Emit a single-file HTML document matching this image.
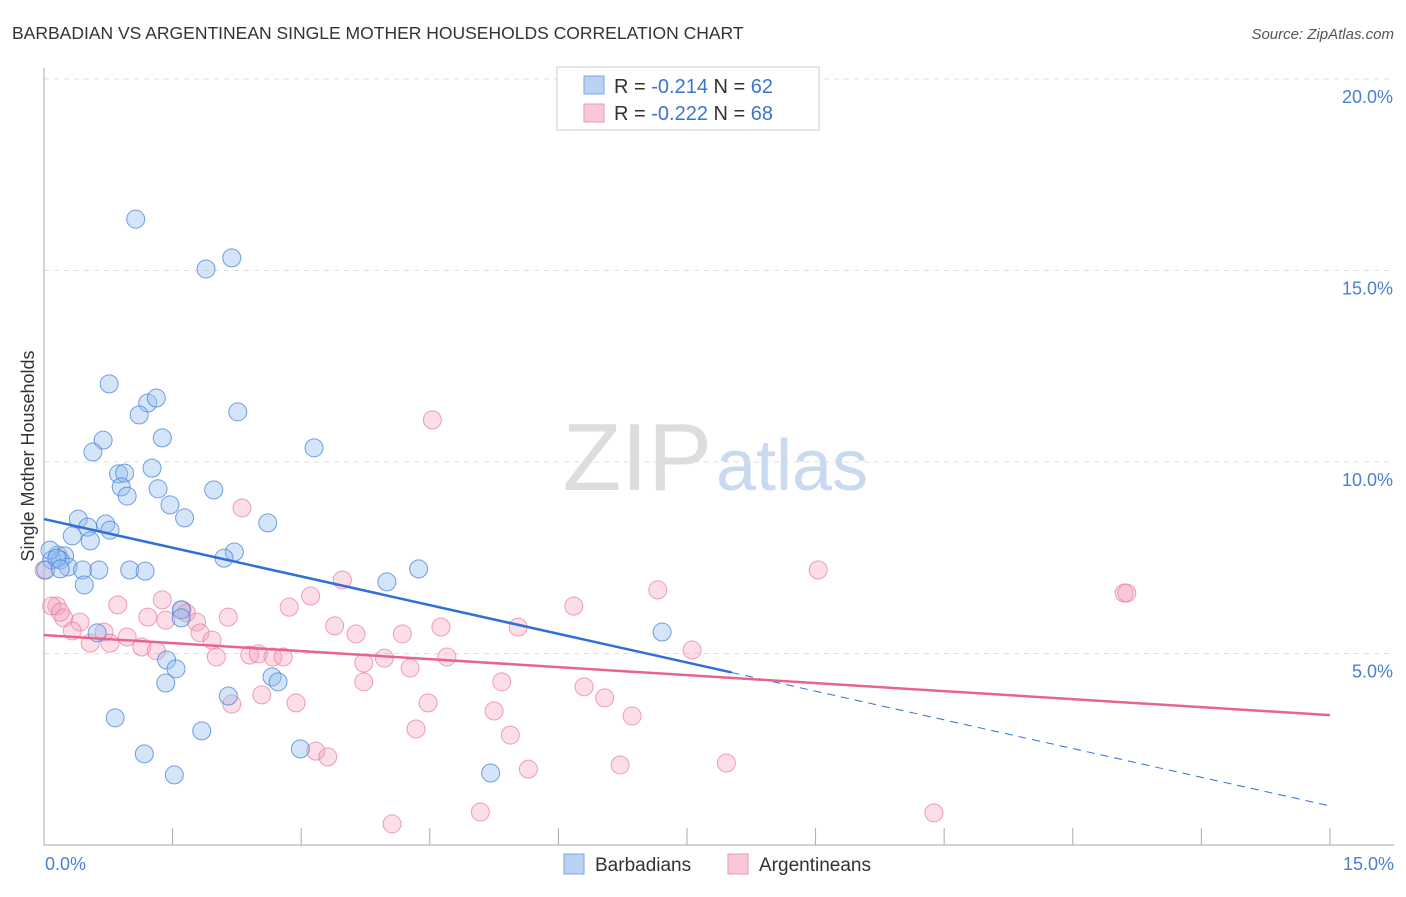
<!DOCTYPE html>
<html><head><meta charset="utf-8"><style>
body{margin:0;background:#fff;font-family:"Liberation Sans",sans-serif}
svg text{font-family:"Liberation Sans",sans-serif}
</style></head><body>
<svg id="c" width="1406" height="892">
<text x="12" y="39" font-size="17.5" fill="#333">BARBADIAN VS ARGENTINEAN SINGLE MOTHER HOUSEHOLDS CORRELATION CHART</text>
<text x="1394" y="39" font-size="15" fill="#555" font-style="italic" text-anchor="end">Source: ZipAtlas.com</text>
<text x="712" y="490" font-size="96" fill="#ddd" text-anchor="end" font-family="Liberation Serif">ZIP</text>
<text x="716" y="490" font-size="72" fill="#c9daf0">atlas</text>
<g id="grid"></g><g id="pts"></g><g id="lines"></g>
<text transform="translate(34,456) rotate(-90)" font-size="18" fill="#333" text-anchor="middle">Single Mother Households</text>
<text x="45" y="870" font-size="18" fill="#4a7fd4">0.0%</text>
<text x="1394" y="870" font-size="18" fill="#4a7fd4" text-anchor="end">15.0%</text>
<g>
<rect x="557" y="67" width="262" height="63" fill="#fff" stroke="#ccc"/>
<rect x="584" y="76" width="20" height="18" fill="#b9d2f3" stroke="#7aa6e6"/>
<rect x="584" y="104" width="20" height="18" fill="#f9c8d6" stroke="#ee97b2"/>
<text x="614" y="93" font-size="20" fill="#333">R = <tspan fill="#3b73d1">-0.214</tspan>   N = <tspan fill="#3b73d1">62</tspan></text>
<text x="614" y="120" font-size="20" fill="#333">R = <tspan fill="#3b73d1">-0.222</tspan>   N = <tspan fill="#3b73d1">68</tspan></text>
</g>
<g>
<rect x="564" y="854" width="20" height="20" fill="#b9d2f3" stroke="#7aa6e6"/>
<text x="595" y="871" font-size="19" fill="#333">Barbadians</text>
<rect x="728" y="854" width="20" height="20" fill="#f9c8d6" stroke="#ee97b2"/>
<text x="759" y="871" font-size="19" fill="#333">Argentineans</text>
</g>
</svg>
<script>
const yTicks=[5,10,15,20];
const yTickLabels=["5.0%","10.0%","15.0%","20.0%"];
const xTicks=[0,1.5,3,4.5,6,7.5,9,10.5,12,13.5,15];
const bluePx=[[136,219],[206,269],[232,258],[109,384],[148,403],[156,398],[139,415],[238,412],[103,440],[162,438],[93,452],[314,448],[119,474],[125,473],[152,468],[121,487],[127,496],[158,489],[214,490],[170,505],[185,518],[78,519],[88,527],[106,524],[110,530],[268,523],[72,536],[90,541],[234,552],[224,558],[58,555],[65,556],[52,560],[60,560],[68,567],[83,570],[99,570],[130,570],[145,571],[387,582],[419,569],[84,585],[181,610],[181,618],[97,633],[662,632],[167,660],[176,669],[166,683],[272,677],[278,682],[228,696],[115,718],[202,731],[144,754],[300,749],[174,775],[491,773],[50,550],[46,570],[57,558],[60,569]];
const pinkPx=[[432,420],[242,508],[818,570],[342,580],[1124,593],[1127,593],[658,590],[574,606],[289,607],[311,596],[162,600],[118,605],[182,610],[186,613],[57,606],[64,618],[148,617],[166,620],[197,622],[228,617],[80,622],[72,631],[104,632],[127,637],[200,633],[212,640],[335,626],[356,634],[402,634],[441,627],[518,627],[90,643],[110,643],[142,647],[156,651],[216,657],[250,655],[258,654],[273,657],[283,657],[384,658],[364,663],[447,657],[692,650],[410,668],[364,682],[502,682],[584,687],[232,704],[262,695],[296,703],[428,703],[605,698],[494,711],[632,716],[416,729],[510,735],[316,751],[328,757],[528,769],[620,765],[726,763],[392,824],[480,812],[934,813],[44,570],[52,606],[60,612]];
// data values (x %, y %) derived from reading the picture
const blueX=bluePx.map(p=>+((p[0]-44)/85.73).toFixed(2));
const blueY=bluePx.map(p=>+(20-(p[1]-79)/38.3).toFixed(2));
const pinkX=pinkPx.map(p=>+((p[0]-44)/85.73).toFixed(2));
const pinkY=pinkPx.map(p=>+(20-(p[1]-79)/38.3).toFixed(2));
const blueTrend=[8.51,1.02];
const pinkTrend=[5.48,3.39];
const blueSolidEnd=8.02;
const X=v=>44+v*85.73, Y=v=>79+(20-v)*38.3;
const NS="http://www.w3.org/2000/svg";
function mk(t,a,parent){const e=document.createElementNS(NS,t);for(const k in a)e.setAttribute(k,a[k]);parent.appendChild(e);return e;}
const grid=document.getElementById('grid');
yTicks.forEach((t,i)=>{
 const l=mk('line',{x1:44,x2:1394,y1:Y(t),y2:Y(t),stroke:'#ddd','stroke-dasharray':'5,5'},grid);
 
 
 const tx=mk('text',{x:1393,y:Y(t)+24,'font-size':18,fill:'#4a7fd4','text-anchor':'end'},grid);
 tx.textContent=yTickLabels[i];
 
 
});
const ax=mk('line',{x1:44,x2:44,y1:68,y2:845,stroke:'#aaa'},grid);


const bx=mk('line',{x1:44,x2:1394,y1:845,y2:845,stroke:'#aaa'},grid);


xTicks.forEach(t=>{
 const l=mk('line',{x1:X(t),x2:X(t),y1:828,y2:845,stroke:'#aaa'},grid);
 
 
});
const pts=document.getElementById('pts');
pinkX.forEach((x,i)=>{
 const c=mk('circle',{cx:X(x),cy:Y(pinkY[i]),r:9,fill:'rgba(244,160,188,0.35)',stroke:'rgba(232,120,160,0.7)'},pts);
 
 
});
blueX.forEach((x,i)=>{
 const c=mk('circle',{cx:X(x),cy:Y(blueY[i]),r:9,fill:'rgba(150,190,240,0.4)',stroke:'rgba(70,130,215,0.75)'},pts);
 
 
});
const lines=document.getElementById('lines');
const bt=v=>blueTrend[0]+(blueTrend[1]-blueTrend[0])*v/15;
const l1=mk('line',{x1:X(0),y1:Y(bt(0)),x2:X(blueSolidEnd),y2:Y(bt(blueSolidEnd)),stroke:'#2f6fd6','stroke-width':2.5},lines);


const l2=mk('line',{x1:X(blueSolidEnd),y1:Y(bt(blueSolidEnd)),x2:X(15),y2:Y(bt(15)),stroke:'#2f6fd6','stroke-width':1,'stroke-dasharray':'8,6'},lines);


const l3=mk('line',{x1:X(0),y1:Y(pinkTrend[0]),x2:X(15),y2:Y(pinkTrend[1]),stroke:'#e8648f','stroke-width':2.5},lines);


</script>
</body></html>
